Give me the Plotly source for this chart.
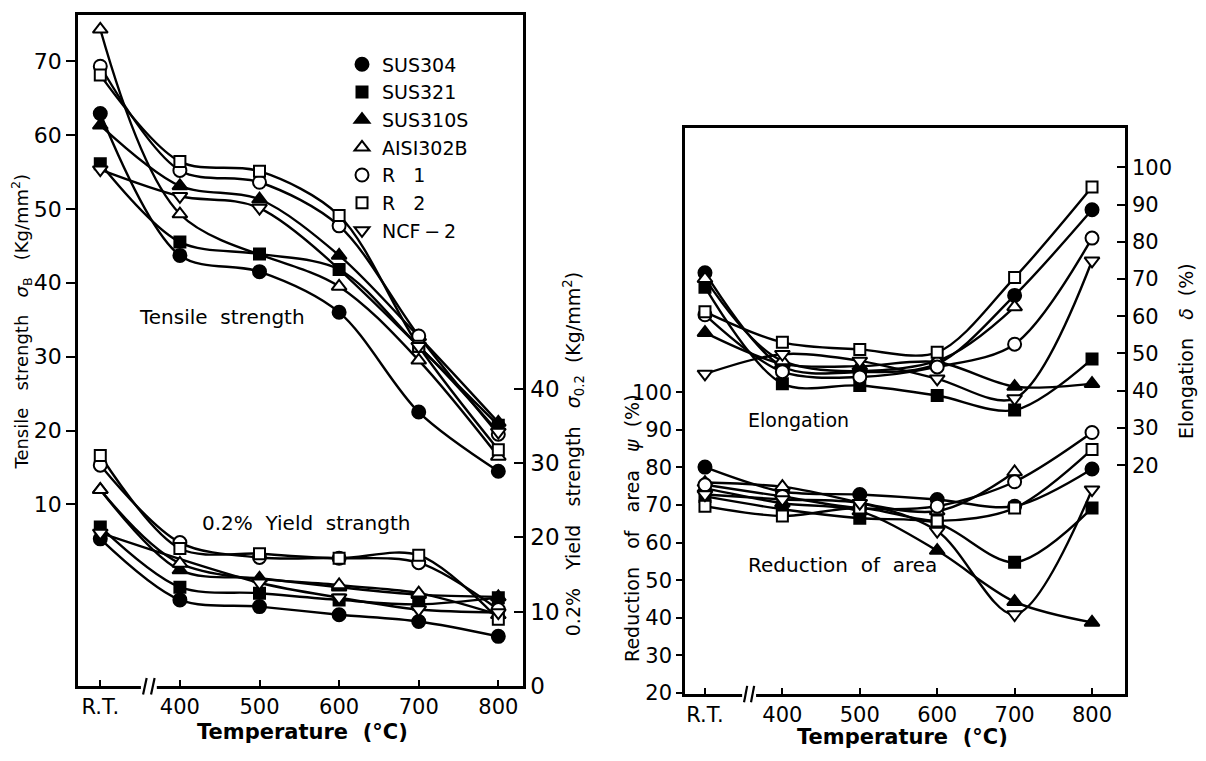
import plotly.graph_objects as go

# ---------------- data ----------------
TEMPS = [300, 400, 500, 600, 700, 800]          # 300 stands for room temperature
TEMP_LABELS = ["R.T.", "400", "500", "600", "700", "800"]
MATERIALS = ["SUS304", "SUS321", "SUS310S", "AISI302B", "R\u00a0\u00a0\u00a01", "R\u00a0\u00a0\u00a02", "NCF\u2009\u2212\u20092"]

# Tensile strength sigma_B (Kg/mm2)
TS_SUS304 = [62.9, 43.7, 41.5, 36.0, 22.5, 14.5]
TS_SUS321 = [56.1, 45.5, 43.9, 41.8, 31.4, 20.7]
TS_SUS310S = [61.3, 53.1, 51.3, 43.7, 32.7, 21.1]
TS_AISI302B = [74.3, 49.3, None, 39.5, 29.5, 16.5]
TS_R1 = [69.3, 55.2, 53.6, 47.7, 32.8, 19.5]
TS_R2 = [68.1, 56.4, 55.1, 49.1, 31.4, 17.4]
TS_NCF2 = [55.3, 51.7, 50.1, None, 31.4, 19.8]

# 0.2% yield strength sigma_0.2 (Kg/mm2)
YS_SUS304 = [19.8, 11.6, 10.7, 9.6, 8.7, 6.7]
YS_SUS321 = [21.4, 13.3, 12.5, 11.6, 11.0, 11.9]
YS_SUS310S = [26.4, 15.6, 14.5, 13.3, 12.3, 12.0]
YS_AISI302B = [26.4, 16.5, None, 13.6, 12.5, 9.6]
YS_R1 = [29.7, 19.3, 17.3, 17.2, 16.6, 10.3]
YS_R2 = [31.0, 18.5, 17.8, 17.2, 17.6, 9.0]
YS_NCF2 = [20.6, None, 13.9, 11.9, 10.3, 9.9]

# Elongation delta (%)
EL_SUS304 = [71.7, 46.5, 45.0, 47.2, 65.6, 88.6]
EL_SUS321 = [67.8, 41.9, 41.4, 38.7, 34.8, 48.5]
EL_SUS310S = [55.6, 47.2, 46.6, 47.7, 41.1, 41.9]
EL_AISI302B = [70.1, 48.0, None, 48.0, 62.5, None]
EL_R1 = [60.4, 45.1, 43.7, 46.4, 52.5, 81.0]
EL_R2 = [61.2, 53.0, 51.1, 50.3, 70.4, 94.7]
EL_NCF2 = [44.5, 49.8, 48.0, 43.2, 37.9, 74.9]

# Reduction of area psi (%)
RA_SUS304 = [80.1, 73.6, 72.8, 71.5, 69.7, 79.6]
RA_SUS321 = [72.3, 68.9, 66.5, 65.2, 54.8, 69.2]
RA_SUS310S = [74.5, 70.5, 68.4, 57.9, 44.3, 38.8]
RA_AISI302B = [76.0, 74.9, None, 68.4, 78.8, None]
RA_R1 = [75.4, 72.3, 69.2, 69.7, 76.2, 89.3]
RA_R2 = [69.7, 67.1, 69.2, 65.8, 69.2, 84.8]
RA_NCF2 = [72.8, 71.5, 70.5, 63.1, 40.9, 74.1]

TS = [TS_SUS304, TS_SUS321, TS_SUS310S, TS_AISI302B, TS_R1, TS_R2, TS_NCF2]
YS = [YS_SUS304, YS_SUS321, YS_SUS310S, YS_AISI302B, YS_R1, YS_R2, YS_NCF2]
EL = [EL_SUS304, EL_SUS321, EL_SUS310S, EL_AISI302B, EL_R1, EL_R2, EL_NCF2]
RA = [RA_SUS304, RA_SUS321, RA_SUS310S, RA_AISI302B, RA_R1, RA_R2, RA_NCF2]

# ---------------- styles / layout helpers ----------------
SYMBOLS = ["circle", "square", "triangle-up", "triangle-up", "circle", "square", "triangle-down"]
FILLS = ["black", "black", "black", "white", "white", "white", "white"]
SIZES = [13, 11, 13, 13, 13, 11, 13]
FONT = "DejaVu Sans"
W, H = 1206, 761
PAGE_OFF = 8  # default body margin of the page


def px_x(p):
    return (p - PAGE_OFF) / W


def px_y(p):
    return 1 - (p - PAGE_OFF) / H


fig = go.Figure()

panels = [(TS, "x", "y"), (YS, "x", "y2"), (EL, "x2", "y4"), (RA, "x2", "y3")]

for series, xa, ya in panels:
    for vals in series:
        fig.add_trace(go.Scatter(
            x=TEMPS, y=vals, xaxis=xa, yaxis=ya, mode="lines",
            line=dict(color="black", width=2.4, shape="spline", smoothing=0.9),
            connectgaps=True, showlegend=False, hoverinfo="skip"))

for p, (series, xa, ya) in enumerate(panels):
    for i, vals in enumerate(series):
        fig.add_trace(go.Scatter(
            x=TEMPS, y=vals, xaxis=xa, yaxis=ya, mode="markers",
            name=MATERIALS[i], showlegend=(p == 0),
            marker=dict(symbol=SYMBOLS[i], size=SIZES[i], color=FILLS[i],
                        line=dict(color="black", width=2))))


def ax(size, **kw):
    d = dict(showline=True, linecolor="black", linewidth=2.5, showgrid=False,
             zeroline=False, tickcolor="black", tickwidth=2,
             tickfont=dict(family=FONT, size=size, color="black"))
    d.update(kw)
    return d


LX = [px_x(78), px_x(523)]
LY = [px_y(698), px_y(15)]
RX = [px_x(685), px_x(1125)]
RY = [px_y(706), px_y(130)]

fig.update_layout(
    width=W, height=H,
    margin=dict(l=0, r=0, t=0, b=0),
    paper_bgcolor="white", plot_bgcolor="white",
    font=dict(family=FONT, color="black"),
    xaxis=ax(21, domain=LX, range=[272, 831], anchor="y", tickvals=TEMPS, ticktext=TEMP_LABELS,
             ticks="inside", ticklen=6, mirror=True),
    yaxis=ax(22, domain=LY, range=[-14.6, 76.25], anchor="x", tickvals=[10, 20, 30, 40, 50, 60, 70],
             ticks="outside", ticklen=9),
    yaxis2=ax(23, range=[0, 90.2], overlaying="y", side="right", anchor="x",
              tickvals=[0, 10, 20, 30, 40], ticks="inside", ticklen=9),
    xaxis2=ax(21, domain=RX, range=[274.2, 842.6], anchor="y3", tickvals=TEMPS, ticktext=TEMP_LABELS,
              ticks="inside", ticklen=6, mirror=True),
    yaxis3=ax(21, domain=RY, range=[19.74, 170.3], anchor="x2",
              tickvals=[20, 30, 40, 50, 60, 70, 80, 90, 100], ticks="outside", ticklen=6),
    yaxis4=ax(21, range=[-41.5, 110.6], overlaying="y3", side="right", anchor="x2",
              tickvals=[20, 30, 40, 50, 60, 70, 80, 90, 100], ticks="inside", ticklen=8),
    legend=dict(x=px_x(342), y=px_y(46), xanchor="left", yanchor="top", bgcolor="rgba(0,0,0,0)",
                font=dict(family=FONT, size=19, color="black"), itemwidth=30,
                tracegroupgap=0),
)


def add_break(xref, y_paper, lo, hi):
    fig.add_shape(type="rect", xref=xref, yref="paper", x0=lo, x1=hi,
                  y0=y_paper - 0.006, y1=y_paper + 0.006,
                  fillcolor="white", line=dict(width=0), layer="above")
    step = (hi - lo) / 4.0
    for k in (1, 3):
        xc = lo + k * step
        fig.add_shape(type="line", xref=xref, yref="paper",
                      x0=xc - step * 0.45, x1=xc + step * 0.45,
                      y0=y_paper - 0.011, y1=y_paper + 0.011,
                      line=dict(color="black", width=2.2), layer="above")


add_break("x", LY[0], 351, 371)
add_break("x2", RY[0], 348, 366)


def note(text, x, y, size, angle=0, bold=False):
    fig.add_annotation(text=("<b>%s</b>" % text) if bold else text, x=px_x(x), y=px_y(y),
                       xref="paper", yref="paper", showarrow=False, textangle=angle,
                       font=dict(family=FONT, size=size, color="black"),
                       xanchor="center", yanchor="middle")


SP = "\u00a0\u00a0"
SP3 = "\u00a0\u00a0\u00a0"
note("Tensile" + SP + "strength", 222, 322, 20)
note("0.2%" + SP + "Yield" + SP + "strangth", 306, 532, 20)
note("Elongation", 798, 427, 19)
note("Reduction" + SP + "of" + SP + "area", 842, 575, 20)

note("Tensile" + SP3 + "strength" + SP3 + "<i>σ</i><sub>B</sub>" + SP3 + "(Kg/mm<sup>2</sup>)", 21, 327, 18, angle=-90)
note("0.2%" + SP3 + "Yield" + SP3 + "strength" + SP3 + "<i>σ</i><sub>0.2</sub>" + SP + "(Kg/mm<sup>2</sup>)", 573, 462, 19, angle=-90)
note("Reduction" + SP3 + "of" + SP3 + "area" + SP3 + "<i>ψ</i>" + SP + "(%)", 632, 537, 19, angle=-90)
note("Elongation" + SP3 + "<i>δ</i>" + SP + "(%)", 1186, 357, 19, angle=-90)
note("Temperature" + SP + "(°C)", 302, 745, 21, bold=True)
note("Temperature" + SP + "(°C)", 902, 750, 21, bold=True)

fig.write_html("out.html")
